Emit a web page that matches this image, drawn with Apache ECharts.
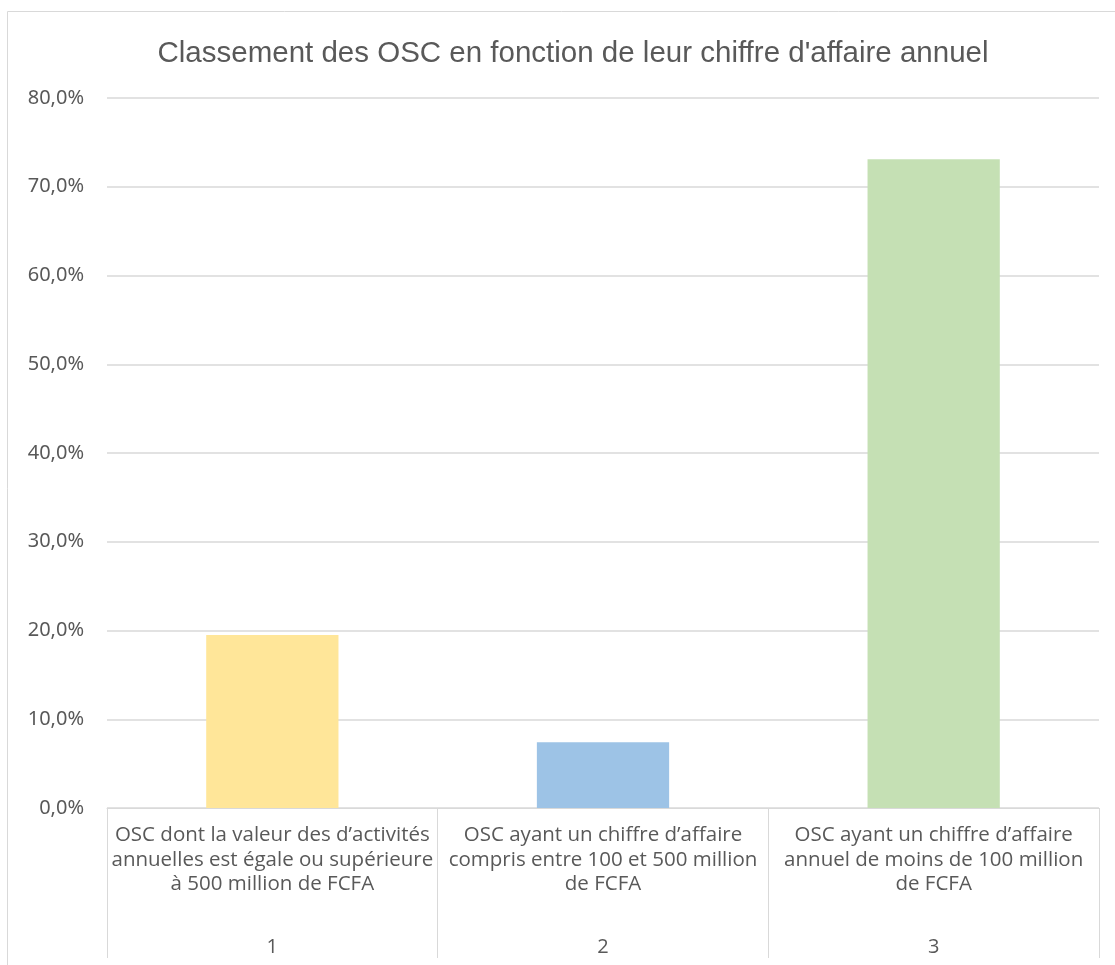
<!DOCTYPE html>
<html>
<head>
<meta charset="utf-8">
<script src="https://cdn.jsdelivr.net/npm/echarts@6/dist/echarts.min.js"></script>
<style>
  html, body { margin: 0; padding: 0; background: #fff; }
  #chart { width: 1115px; height: 965px; }
</style>
</head>
<body>
<div id="chart"></div>
<script>
// données
var categories = [
  "OSC dont la valeur des d\u2019activit\u00e9s\nannuelles est \u00e9gale ou sup\u00e9rieure\n\u00e0 500 million de FCFA",
  "OSC ayant un chiffre d\u2019affaire\ncompris entre 100 et 500 million\nde FCFA",
  "OSC ayant un chiffre d\u2019affaire\nannuel de moins de 100 million\nde FCFA"
];
var numeros = ["1", "2", "3"];
var valeurs = [19.5, 7.4, 73.1];
var couleurs = ["#FFE699", "#9DC3E6", "#C5E0B4"];

var myChart = echarts.init(document.getElementById('chart'));
var gris = '#595959';
var ligne = '#d9d9d9';

var option = {
  animation: false,
  graphic: [{
    type: 'rect',
    shape: { x: 7.5, y: 11.5, width: 1200, height: 1000 },
    style: { fill: 'none', stroke: ligne, lineWidth: 1 },
    z: -1
  }],
  title: {
    text: "Classement des OSC en fonction de leur chiffre d'affaire annuel",
    left: 568,
    top: 34,
    textAlign: 'center',
    textStyle: {
      fontFamily: 'Liberation Sans',
      fontSize: 29.5,
      fontWeight: 'normal',
      color: gris
    }
  },
  grid: { left: 107, right: 16, top: 98, bottom: 157 },
  xAxis: [{
    type: 'category',
    data: categories,
    axisLine: { lineStyle: { color: ligne } },
    axisTick: { show: true, length: 150, interval: 0, lineStyle: { color: ligne } },
    axisLabel: {
      interval: 0,
      margin: 15,
      color: gris,
      fontFamily: 'Open Sans',
      fontSize: 20.5,
      lineHeight: 24.5
    }
  }, {
    type: 'category',
    data: numeros,
    position: 'bottom',
    offset: 121,
    axisLine: { show: false },
    axisTick: { show: false },
    axisLabel: {
      color: gris,
      fontFamily: 'Open Sans',
      fontSize: 20
    }
  }],
  yAxis: {
    type: 'value',
    min: 0,
    max: 80,
    interval: 10,
    axisLine: { show: false },
    axisTick: { show: false },
    splitLine: { lineStyle: { color: ligne, width: 1.5 } },
    axisLabel: {
      margin: 23,
      color: gris,
      fontFamily: 'Noto Sans',
      fontSize: 20,
      formatter: function (v) { return v.toFixed(1).replace('.', ',') + '%'; }
    }
  },
  series: [{
    type: 'bar',
    barWidth: '40%',
    data: valeurs.map(function (v, i) {
      return { value: v, itemStyle: { color: couleurs[i] } };
    })
  }]
};
myChart.setOption(option);
</script>
</body>
</html>
